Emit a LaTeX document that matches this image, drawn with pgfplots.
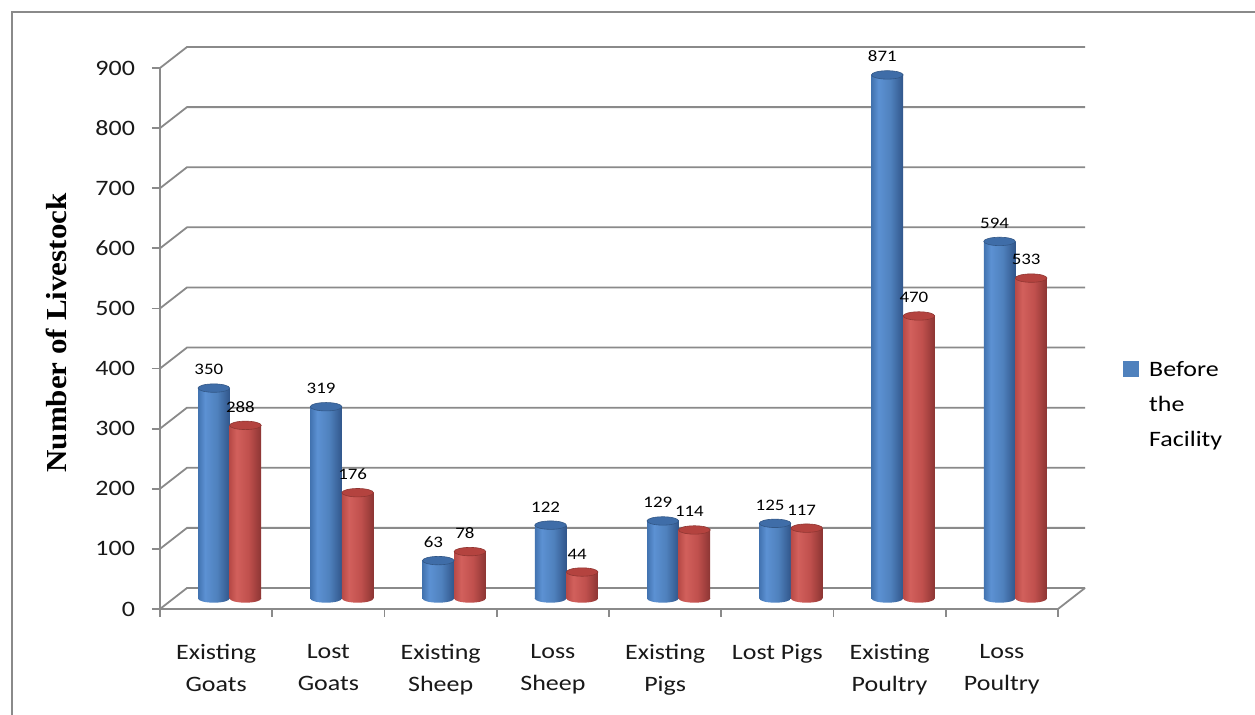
\documentclass[border=0pt]{standalone}
\usepackage{fontspec}
\setmainfont{Carlito}[FakeStretch=1.18]
\newfontfamily\ylabfont{Liberation Serif}[FakeStretch=1.07]
\usepackage{pgfplots}
\usepackage{pgfplotstable}
\pgfplotsset{compat=1.18}

\definecolor{gridgray}{HTML}{8A8A8A}
\definecolor{bmid}{HTML}{4F81BD}
\definecolor{bL}{HTML}{4273B0}
\definecolor{bH}{HTML}{5C91D3}
\definecolor{bR}{HTML}{31568A}
\definecolor{btop}{HTML}{3F6DA8}
\definecolor{rmid}{HTML}{C0504D}
\definecolor{rL}{HTML}{B84A47}
\definecolor{rH}{HTML}{D2605C}
\definecolor{rR}{HTML}{8C3533}
\definecolor{rtop}{HTML}{B4433F}

\pgfdeclarehorizontalshading{bluecyl}{100bp}{color(0bp)=(bL); color(25bp)=(bL); color(36bp)=(bH); color(55bp)=(bmid); color(75bp)=(bR); color(100bp)=(bR)}
\pgfdeclarehorizontalshading{redcyl}{100bp}{color(0bp)=(rL); color(25bp)=(rL); color(36bp)=(rH); color(55bp)=(rmid); color(75bp)=(rR); color(100bp)=(rR)}

\pgfdeclareplotmark{cyltop}{\pgfpathellipse{\pgfpointorigin}{\pgfqpoint{7.9pt}{0pt}}{\pgfqpoint{0pt}{2.1pt}}\pgfusepathqfillstroke}
\pgfdeclareplotmark{bluebot}{\pgfpathellipse{\pgfpointorigin}{\pgfqpoint{7.9pt}{0pt}}{\pgfqpoint{0pt}{2.1pt}}\pgfshadepath{bluecyl}{0}\pgfusepath{discard}}
\pgfdeclareplotmark{redbot}{\pgfpathellipse{\pgfpointorigin}{\pgfqpoint{7.9pt}{0pt}}{\pgfqpoint{0pt}{2.1pt}}\pgfshadepath{redcyl}{0}\pgfusepath{discard}}

\pgfplotstableread{
x before after zero
0.5 350 288 0
1.5 319 176 0
2.5 63 78 0
3.5 122 44 0
4.5 129 114 0
5.5 125 117 0
6.5 871 470 0
7.5 594 533 0
}\livestock

\tikzset{barlabel/.style={font=\fontsize{8}{9}\selectfont, text=black, anchor=south, inner sep=0pt, yshift=6.3pt}}
\pgfplotsset{
  bluebar/.style={ybar, bar width=15.8pt, bar shift=-7.9pt, xshift=6.75pt, yshift=5.25pt, draw=none, shading=bluecyl, forget plot,
    nodes near coords, every node near coord/.append style={barlabel, xshift=-10.4pt}},
  redbar/.style={ybar, bar width=15.8pt, bar shift=7.9pt, xshift=6.75pt, yshift=5.25pt, draw=none, shading=redcyl, forget plot,
    nodes near coords, every node near coord/.append style={barlabel, xshift=5.4pt}},
}

\begin{document}
\begin{tikzpicture}
\useasboundingbox (0,0) rectangle (627.5pt,357.5pt);
\fill[white] (0,0) rectangle (627.5pt,357.5pt);
% outer frame (left and top edges visible)
\draw[gridgray, line width=1pt] (6pt,0pt) -- (6pt,351.5pt) -- (627.5pt,351.5pt);
% y label
\node[rotate=90, font=\ylabfont\bfseries\fontsize{14.5}{16}\selectfont, text=black] at (28pt,191pt) {Number of Livestock};

\begin{axis}[
  at={(80pt,53pt)}, anchor=south west,
  scale only axis, width=449pt, height=270.5pt,
  xmin=0, xmax=8, ymin=0, ymax=900,
  axis x line*=bottom, axis y line*=left,
  axis line style={gridgray, line width=0.9pt},
  every tick/.style={gridgray, line width=0.9pt},
  tick align=outside, major tick length=4pt,
  xtick={0,1,...,8}, xticklabels={},
  extra x ticks={0.5,1.5,...,7.5},
  extra x tick labels={{Existing\\Goats},{Lost\\Goats},{Existing\\Sheep},{Loss\\Sheep},{Existing\\Pigs},{Lost Pigs},{Existing\\Poultry},{Loss\\Poultry}},
  extra x tick style={major tick length=0pt},
  xticklabel style={font=\fontsize{11}{16}\selectfont, align=center, text=black!90, yshift=-14pt},
  ytick={0,100,...,900},
  yticklabel style={font=\fontsize{11}{13}\selectfont, text=black!90, xshift=-5pt},
  /pgf/number format/assume math mode=true,
  clip=false,
  legend style={draw=none, fill=none, at={(1.0724,0.4410)}, anchor=west, inner sep=0pt, column sep=5pt, nodes={inner sep=0pt, anchor=base west}},
]
% back grid with 3D offset
\pgfplotsinvokeforeach{0,100,...,900}{
  \draw[gridgray, line width=0.9pt] (axis cs:0,#1) -- ([xshift=13.5pt,yshift=10.5pt]axis cs:0,#1) -- ([xshift=13.5pt,yshift=10.5pt]axis cs:8,#1);
}
\draw[gridgray, line width=0.9pt] (axis cs:8,0) -- ([xshift=13.5pt,yshift=10.5pt]axis cs:8,0);

% Before the Facility (blue)
\addplot[only marks, mark=bluebot, xshift=-1.15pt, yshift=5.25pt, forget plot] table[x=x, y=zero] {\livestock};
\addplot[bluebar] coordinates {(0.5,350)};
\addplot[bluebar] coordinates {(1.5,319)};
\addplot[bluebar] coordinates {(2.5,63)};
\addplot[bluebar] coordinates {(3.5,122)};
\addplot[bluebar] coordinates {(4.5,129)};
\addplot[bluebar] coordinates {(5.5,125)};
\addplot[bluebar] coordinates {(6.5,871)};
\addplot[bluebar] coordinates {(7.5,594)};
\addplot[only marks, mark=cyltop, mark options={fill=btop, draw=btop!80!black, line width=0.3pt}, xshift=-1.15pt, yshift=5.25pt, forget plot] table[x=x, y=before] {\livestock};

% After (red)
\addplot[only marks, mark=redbot, xshift=14.65pt, yshift=5.25pt, forget plot] table[x=x, y=zero] {\livestock};
\addplot[redbar] coordinates {(0.5,288)};
\addplot[redbar] coordinates {(1.5,176)};
\addplot[redbar] coordinates {(2.5,78)};
\addplot[redbar] coordinates {(3.5,44)};
\addplot[redbar] coordinates {(4.5,114)};
\addplot[redbar] coordinates {(5.5,117)};
\addplot[redbar] coordinates {(6.5,470)};
\addplot[redbar] coordinates {(7.5,533)};
\addplot[only marks, mark=cyltop, mark options={fill=rtop, draw=rtop!80!black, line width=0.3pt}, xshift=14.65pt, yshift=5.25pt, forget plot] table[x=x, y=after] {\livestock};

\addlegendimage{legend image code/.code={\fill[bmid] (0pt,0pt) rectangle (7.5pt,7.5pt);}}
\addlegendentry{\raisebox{0pt}[\height][0pt]{\parbox[t]{3cm}{\fontsize{11}{17.5}\selectfont Before\\the\\Facility}}}
\end{axis}
\end{tikzpicture}
\end{document}
